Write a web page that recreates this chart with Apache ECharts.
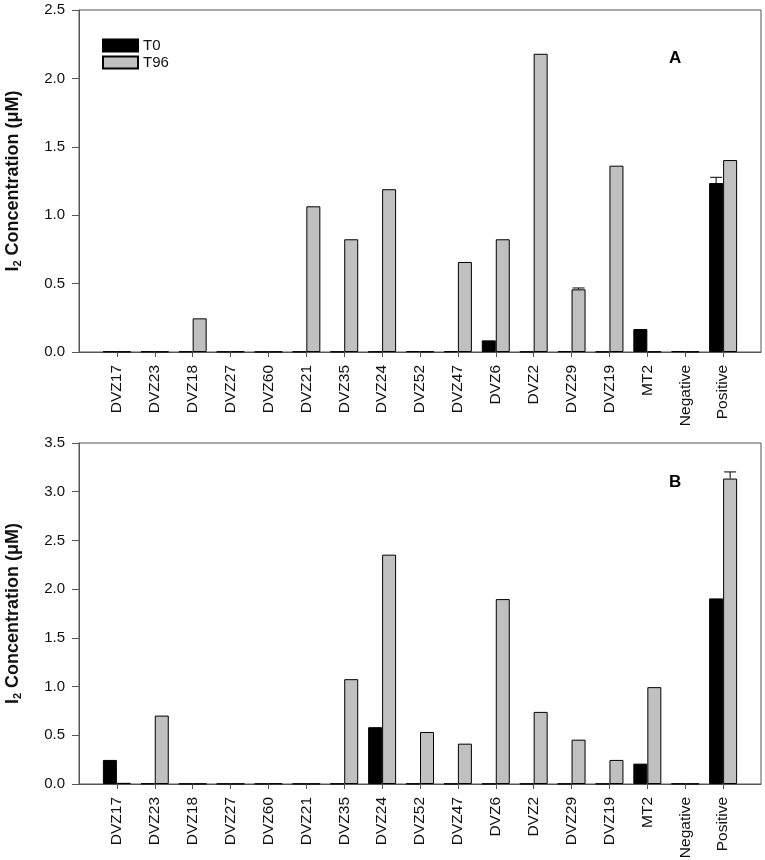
<!DOCTYPE html>
<html>
<head>
<meta charset="utf-8">
<script src="https://cdn.jsdelivr.net/npm/echarts@6/dist/echarts.min.js"></script>
<style>
  html, body { margin: 0; padding: 0; background: #fff; }
  #main { width: 765px; height: 860px; }
</style>
</head>
<body>
<div id="main"></div>
<script>
// strains on the x axis (same order in both panels)
const categories = ['DVZ17', 'DVZ23', 'DVZ18', 'DVZ27', 'DVZ60', 'DVZ21', 'DVZ35', 'DVZ24',
  'DVZ52', 'DVZ47', 'DVZ6', 'DVZ2', 'DVZ29', 'DVZ19', 'MT2', 'Negative', 'Positive'];

// panel A, I2 concentration (uM)
const aT0 = [0.004, 0.004, 0.004, 0.003, 0.002, 0.003, 0.003, 0.003, 0.006, 0.005, 0.085, 0.003, 0.006, 0.003, 0.168, 0.006, 1.235];
const aT96 = [0.003, 0.003, 0.246, 0.004, 0.003, 1.065, 0.824, 1.19, 0.004, 0.658, 0.824, 2.18, 0.458, 1.362, 0.003, 0.003, 1.403];
const aT0Err = [0, 0, 0, 0, 0, 0, 0, 0, 0, 0, 0, 0, 0, 0, 0, 0, 0.042];
const aT96Err = [0, 0, 0, 0, 0, 0, 0, 0, 0, 0, 0, 0, 0.01, 0, 0, 0, 0];

// panel B
const bT0 = [0.247, 0.005, 0.003, 0.003, 0.003, 0.003, 0.004, 0.583, 0.004, 0.003, 0.003, 0.003, 0.003, 0.003, 0.209, 0.004, 1.905];
const bT96 = [0.012, 0.702, 0.003, 0.003, 0.006, 0.003, 1.076, 2.354, 0.534, 0.414, 1.898, 0.74, 0.455, 0.247, 0.994, 0.003, 3.135];
const bT0Err = [0, 0, 0, 0, 0, 0, 0, 0, 0, 0, 0, 0, 0, 0, 0, 0, 0];
const bT96Err = [0, 0, 0, 0, 0, 0, 0, 0, 0, 0, 0, 0, 0, 0, 0, 0, 0.068];

const yMaxA = 2.5;
const yMaxB = 3.5;
const yStep = 0.5;

const FONT = 'Liberation Sans';
const BAR_W = 14;

// empty slot on both ends, like the SigmaPlot axis
const axisCats = [''].concat(categories, ['']);
const pad = arr => ['-'].concat(arr, ['-']);

function xAxisFor(gridIndex) {
  return {
    type: 'category',
    gridIndex: gridIndex,
    data: axisCats,
    boundaryGap: false,
    axisLine: { lineStyle: { color: '#555', width: 1 } },
    axisTick: {
      length: 5,
      lineStyle: { color: '#555' },
      interval: function (i, v) { return v !== ''; }
    },
    axisLabel: {
      interval: 0,
      rotate: 90,
      margin: 13,
      fontFamily: FONT,
      fontSize: 15.5,
      color: '#111'
    },
    splitLine: { show: false }
  };
}

function yAxisFor(gridIndex, max) {
  return {
    type: 'value',
    gridIndex: gridIndex,
    min: 0,
    max: max,
    interval: yStep,
    name: '{b|I}{sub|2}{b| Concentration (μM)}',
    nameLocation: 'middle',
    nameGap: 56,
    nameTextStyle: {
      rich: {
        b: { fontFamily: FONT, fontSize: 18, fontWeight: 'bold', color: '#111' },
        sub: { fontFamily: FONT, fontSize: 11, fontWeight: 'bold', color: '#111', padding: [9, 0, 0, 0] }
      }
    },
    axisLine: { show: true, lineStyle: { color: '#555', width: 1 } },
    axisTick: { show: true, length: 7, lineStyle: { color: '#555' } },
    axisLabel: {
      margin: 14,
      fontFamily: FONT,
      fontSize: 15,
      color: '#111',
      formatter: v => v.toFixed(1)
    },
    splitLine: { show: false }
  };
}

function barSeries(name, values, idx, color) {
  return {
    name: name,
    type: 'bar',
    xAxisIndex: idx,
    yAxisIndex: idx,
    data: pad(values),
    barWidth: BAR_W,
    barGap: '0%',
    itemStyle: { color: color, borderColor: '#000', borderWidth: 1 },
    emphasis: { disabled: true }
  };
}

// upper error bar with a cap, shifted onto its bar
function errSeries(values, errs, idx, shift) {
  const data = values.map((v, i) => [i + 1, v, errs[i]]);
  return {
    type: 'custom',
    xAxisIndex: idx,
    yAxisIndex: idx,
    silent: true,
    z: 3,
    data: data,
    renderItem: function (params, api) {
      const err = api.value(2);
      if (!err) return null;
      const base = api.coord([api.value(0), api.value(1)]);
      const top = api.coord([api.value(0), api.value(1) + err]);
      const x = base[0] + shift;
      const cap = 6;
      return {
        type: 'group',
        children: [
          { type: 'line', shape: { x1: x, y1: base[1], x2: x, y2: top[1] }, style: { stroke: '#000', lineWidth: 1 } },
          { type: 'line', shape: { x1: x - cap, y1: top[1], x2: x + cap, y2: top[1] }, style: { stroke: '#000', lineWidth: 1 } }
        ]
      };
    }
  };
}

var myChart = echarts.init(document.getElementById('main'));

var option = {
  animation: false,
  backgroundColor: '#fff',
  title: [
    { text: 'A', left: 664, top: 45, textStyle: { fontFamily: FONT, fontSize: 17, fontWeight: 'bold', color: '#000' } },
    { text: 'B', left: 664, top: 469, textStyle: { fontFamily: FONT, fontSize: 17, fontWeight: 'bold', color: '#000' } }
  ],
  legend: {
    data: ['T0', 'T96'],
    orient: 'vertical',
    left: 97,
    top: 33,
    icon: 'rect',
    itemWidth: 35,
    itemHeight: 12,
    itemGap: 2,
    textStyle: { fontFamily: FONT, fontSize: 15, color: '#111' }
  },
  grid: [
    { left: 79, top: 10, width: 682, height: 342, show: true, borderColor: '#555', borderWidth: 1, outerBoundsMode: 'none' },
    { left: 79, top: 443, width: 682, height: 341, show: true, borderColor: '#555', borderWidth: 1, outerBoundsMode: 'none' }
  ],
  xAxis: [xAxisFor(0), xAxisFor(1)],
  yAxis: [yAxisFor(0, yMaxA), yAxisFor(1, yMaxB)],
  series: [
    barSeries('T0', aT0, 0, '#000'),
    barSeries('T96', aT96, 0, '#c0c0c0'),
    barSeries('T0', bT0, 1, '#000'),
    barSeries('T96', bT96, 1, '#c0c0c0'),
    errSeries(aT0, aT0Err, 0, -BAR_W / 2),
    errSeries(aT96, aT96Err, 0, BAR_W / 2),
    errSeries(bT0, bT0Err, 1, -BAR_W / 2),
    errSeries(bT96, bT96Err, 1, BAR_W / 2)
  ]
};

myChart.setOption(option);
</script>
</body>
</html>
